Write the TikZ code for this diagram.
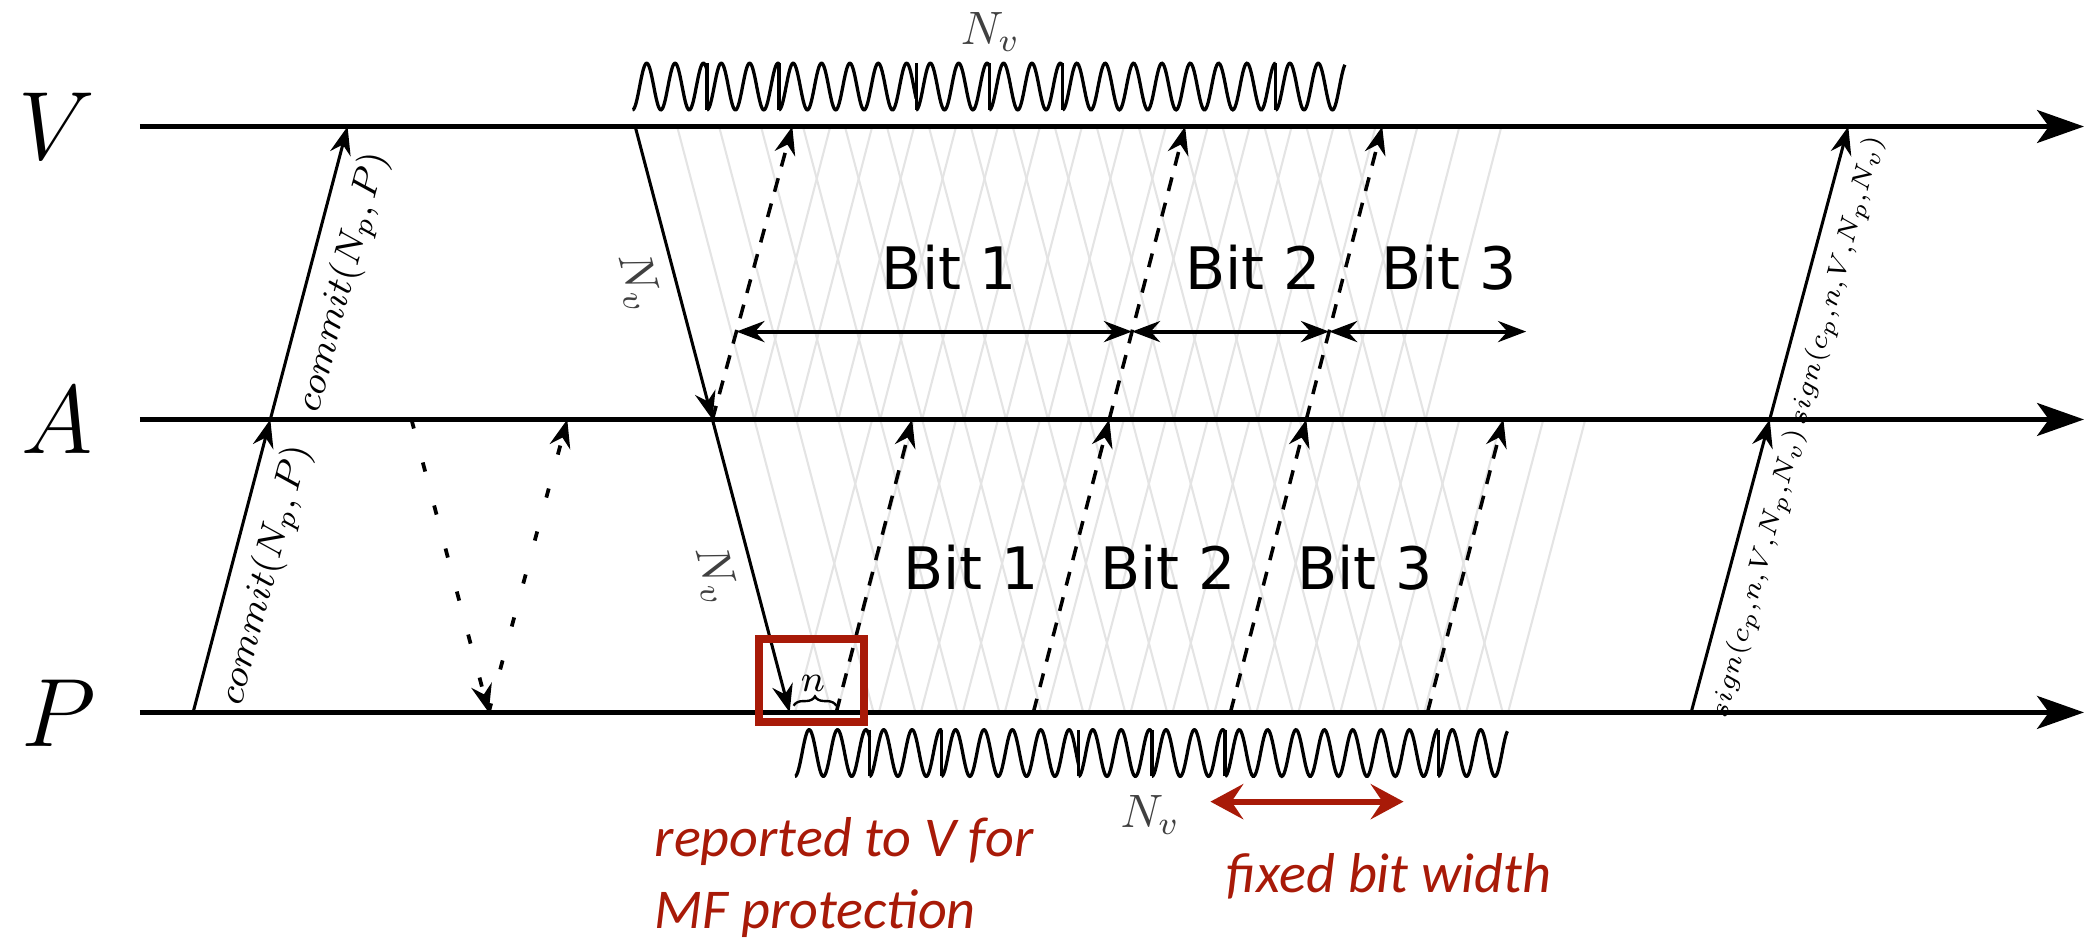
\documentclass[tikz,border=0pt]{standalone}
\usepackage{fontspec}
\usepackage{xcolor}
\usepackage{tikz}
\usetikzlibrary{arrows.meta, calc, decorations.pathreplacing}
\newfontfamily\bitfont{DejaVu Sans}
\newfontfamily\notefont{Carlito}
\definecolor{markred}{HTML}{A81A08}
\definecolor{frontgray}{HTML}{E4E4E4}

\tikzset{
  timeline/.style={line width=1.1pt, -{Stealth[length=10pt,width=7pt,inset=2.5pt]}},
  msg/.style={line width=0.65pt, -{Stealth[length=6pt,width=4.5pt,inset=2pt]}},
  relay/.style={msg, line width=0.75pt, dash pattern=on 3pt off 2.6pt},
  probe/.style={msg, line width=0.8pt, dash pattern=on 2pt off 7.5pt},
  bitspan/.style={line width=0.85pt, {Stealth[length=6pt,width=4.5pt,inset=2pt]}-{Stealth[length=6pt,width=4.5pt,inset=2pt]}},
  wavefront/.style={frontgray, line width=0.45pt},
  wave/.style={line width=0.7pt},
  party/.style={font=\huge},
  nvlbl/.style={text=black!75},
  comlbl/.style={sloped, below, font=\footnotesize},
  siglbl/.style={sloped, below, inner sep=3pt, font=\fontsize{6}{7}\selectfont},
  bitlbl/.style={font=\bitfont\fontsize{12.5}{15}\selectfont},
  notetext/.style={text=markred, font=\notefont\itshape\fontsize{12}{15.4}\selectfont, inner sep=0pt}
}

% one N_v burst, #1 = start x, #2 = lower edge y
\newcommand{\nvwave}[2]{%
  \foreach \a/\b in {0/56,56/110,110/213,213/268,268/323,323/483,483/535}{
    \draw[wave] plot[domain=\a:\b, samples=200] ({#1+\x},{#2-17.5*(1-cos(((\x-\a)/21.3)*360))});
  }
  \foreach \a in {56,110,213,268,323,483}
    \draw[wave] (#1+\a,#2) -- (#1+\a,#2-35);
}
\newcommand{\signtext}{\scalebox{0.94}{$sign(c_p{,}n{,}V{,}N_p{,}N_v)$}}

\begin{document}
\begin{tikzpicture}[x=0.01cm, y=-0.01cm]
  \useasboundingbox (0,0) rectangle (1568,706);

  % time lines
  \coordinate (Vs) at (105,95);  \coordinate (Ve) at (1565,95);
  \coordinate (As) at (105,315); \coordinate (Ae) at (1565,315);
  \coordinate (Ps) at (105,535); \coordinate (Pe) at (1565,535);

  % events on the lines
  \coordinate (cP) at (145,535); \coordinate (cA) at (203,315); \coordinate (cV) at (261,95);
  \coordinate (dA1) at (309,315); \coordinate (dP) at (367,535); \coordinate (dA2) at (426,315);
  \coordinate (nV) at (477,95); \coordinate (nA) at (535,315); \coordinate (nP) at (593,535);
  \coordinate (uV1) at (595,95);
  \coordinate (sP) at (1270,535); \coordinate (sA) at (1329,315); \coordinate (sV) at (1388,95);
  \foreach \i/\x in {1/628,2/776,3/924,4/1072}{
    \coordinate (lP\i) at (\x,535);
    \coordinate (lA\i) at (\x+57,315);
  }
  \coordinate (uV2) at ($(lA2)+(57,-220)$);
  \coordinate (uV3) at ($(lA3)+(57,-220)$);

  % wave fronts in the background
  \foreach \k in {1,...,17}{
    \draw[wavefront] ($(nV)+(31.5*\k,0)$) -- ++(116,440);
    \draw[wavefront] ($(nA)+(31.5*\k,0)$) -- ++(57,-220);
  }
  \foreach \k in {0,...,17}
    \draw[wavefront] (597+31.5*\k,535) -- ++(58,-220);

  \node[party] (labV) at (43,95) {$V$};
  \node[party] (labA) at (43,316) {$A$};
  \node[party] (labP) at (44,536) {$P$};
  \draw[timeline] (Vs) -- (Ve);
  \draw[timeline] (As) -- (Ae);
  \draw[timeline] (Ps) -- (Pe);

  % commitment
  \draw[msg] (cP) -- node[comlbl] (com1) {$commit(N_p,P)$} (cA);
  \draw[msg] (cA) -- node[comlbl] (com2) {$commit(N_p,P)$} (cV);

  \draw[probe] (dA1) -- (dP);
  \draw[probe] (dP) -- (dA2);

  % challenge
  \nvwave{475}{82.5}
  \node[nvlbl] (nvtop) at (744,24) {$N_v$};
  \draw[msg] (nV) -- node[nvlbl, sloped, below] (nv1) {$N_v$} (nA);
  \draw[msg] (nA) -- node[nvlbl, sloped, below] (nv2) {$N_v$} (nP);
  \nvwave{597}{583}
  \node[nvlbl] (nvbot) at (864,612) {$N_v$};

  % replies
  \draw[relay] (nA) -- (uV1);
  \draw[relay] (lA2) -- (uV2);
  \draw[relay] (lA3) -- (uV3);
  \foreach \i in {1,...,4}
    \draw[relay] (lP\i) -- (lA\i);

  \coordinate (b0) at ($(nA)!0.3!(uV1)$);
  \coordinate (b1) at ($(lA2)!0.3!(uV2)$);
  \coordinate (b2) at ($(lA3)!0.3!(uV3)$);
  \coordinate (b3) at ($(b2)+(148,0)$);
  \draw[bitspan] (b0) -- (b1);
  \draw[bitspan] (b1) -- (b2);
  \draw[bitspan] (b2) -- (b3);

  \node[bitlbl] (bitU1) at (713,201) {Bit 1};
  \node[bitlbl] (bitU2) at (941,201) {Bit 2};
  \node[bitlbl] (bitU3) at (1088,201) {Bit 3};
  \node[bitlbl] (bitL1) at (729,426) {Bit 1};
  \node[bitlbl] (bitL2) at (877,426) {Bit 2};
  \node[bitlbl] (bitL3) at (1025,426) {Bit 3};

  % processing time n
  \draw[decorate, decoration={brace, amplitude=2pt}, line width=0.5pt]
    ($(nP)+(3,-5)$) -- ($(lP1)+(0,-5)$);
  \node[font=\footnotesize, inner sep=0pt] (nlbl) at ($(nP)!0.5!(lP1)+(0,-22)$) {$n$};

  % signature
  \draw[msg] (sP) -- node[siglbl] (sig1) {\signtext} (sA);
  \draw[msg] (sA) -- node[siglbl] (sig2) {\signtext} (sV);

  % annotations
  \draw[markred, line width=1.7pt] (570,480) rectangle (649,542);
  \node[notetext, anchor=west, align=left] (note1) at (491,659) {reported to V for\\MF protection};
  \coordinate (fw1) at (909,602);
  \coordinate (fw2) at (1054,602);
  \draw[markred, line width=1.3pt, {Stealth[length=7pt,width=7.5pt,inset=2.5pt]}-{Stealth[length=7pt,width=7.5pt,inset=2.5pt]}] (fw1) -- (fw2);
  \node[notetext, anchor=base] (note2) at (1043,670) {fixed bit width};
\end{tikzpicture}
\end{document}
